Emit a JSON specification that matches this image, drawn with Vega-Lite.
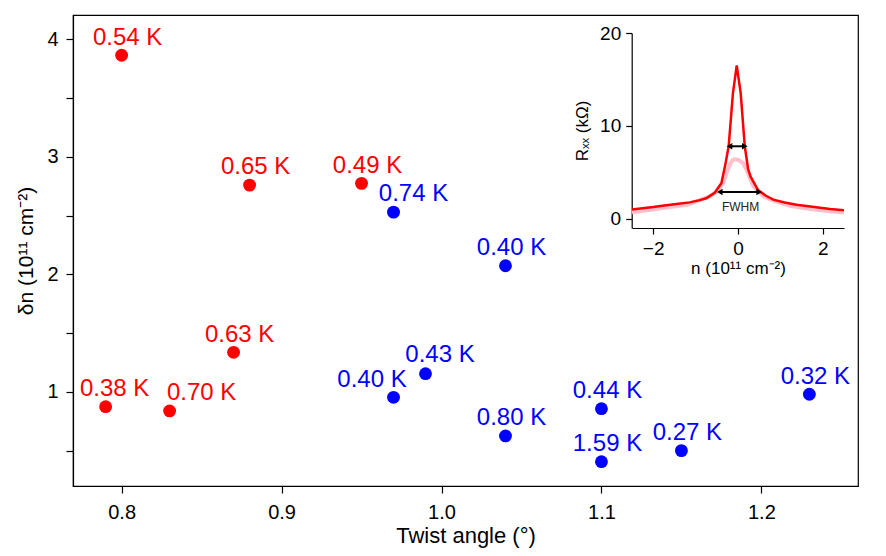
{
  "$schema": "https://vega.github.io/schema/vega-lite/v6.json",
  "width": 785,
  "height": 471,
  "autosize": "none",
  "padding": {"left": 73, "top": 15, "right": 28, "bottom": 70},
  "background": "white",
  "config": {
    "view": {"stroke": "black", "strokeWidth": 1.2},
    "axis": {
      "grid": false,
      "domainColor": "black",
      "domainWidth": 1.2,
      "tickColor": "black",
      "tickWidth": 1.2,
      "labelColor": "black",
      "titleColor": "black",
      "labelFont": "Liberation Sans",
      "titleFont": "Liberation Sans",
      "titleFontWeight": "normal"
    },
    "text": {"font": "Liberation Sans"}
  },
  "datasets": {
    "points": [
      {"twist": 0.80, "dn": 3.864, "label": "0.54 K", "group": "A"},
      {"twist": 0.88, "dn": 2.759, "label": "0.65 K", "group": "A"},
      {"twist": 0.95, "dn": 2.774, "label": "0.49 K", "group": "A"},
      {"twist": 0.87, "dn": 1.336, "label": "0.63 K", "group": "A"},
      {"twist": 0.79, "dn": 0.873, "label": "0.38 K", "group": "A"},
      {"twist": 0.83, "dn": 0.837, "label": "0.70 K", "group": "A"},
      {"twist": 0.97, "dn": 2.529, "label": "0.74 K", "group": "B"},
      {"twist": 1.04, "dn": 2.073, "label": "0.40 K", "group": "B"},
      {"twist": 0.99, "dn": 1.154, "label": "0.43 K", "group": "B"},
      {"twist": 0.97, "dn": 0.953, "label": "0.40 K", "group": "B"},
      {"twist": 1.04, "dn": 0.624, "label": "0.80 K", "group": "B"},
      {"twist": 1.10, "dn": 0.856, "label": "0.44 K", "group": "B"},
      {"twist": 1.10, "dn": 0.405, "label": "1.59 K", "group": "B"},
      {"twist": 1.15, "dn": 0.499, "label": "0.27 K", "group": "B"},
      {"twist": 1.23, "dn": 0.979, "label": "0.32 K", "group": "B"}
    ],
    "rxx": [
      {"trace": "sharp", "n": -2.5, "r": 1.0},
      {"trace": "sharp", "n": -2.0, "r": 1.25},
      {"trace": "sharp", "n": -1.78, "r": 1.4},
      {"trace": "sharp", "n": -1.5, "r": 1.55},
      {"trace": "sharp", "n": -1.14, "r": 1.76},
      {"trace": "sharp", "n": -0.9, "r": 2.0},
      {"trace": "sharp", "n": -0.75, "r": 2.2},
      {"trace": "sharp", "n": -0.55, "r": 2.8},
      {"trace": "sharp", "n": -0.39, "r": 3.85},
      {"trace": "sharp", "n": -0.3, "r": 5.8},
      {"trace": "sharp", "n": -0.22, "r": 7.8},
      {"trace": "sharp", "n": -0.12, "r": 13.5},
      {"trace": "sharp", "n": -0.03, "r": 16.5},
      {"trace": "sharp", "n": 0.064, "r": 13.5},
      {"trace": "sharp", "n": 0.16, "r": 7.8},
      {"trace": "sharp", "n": 0.24, "r": 5.3},
      {"trace": "sharp", "n": 0.3, "r": 4.5},
      {"trace": "sharp", "n": 0.47, "r": 3.1},
      {"trace": "sharp", "n": 0.65, "r": 2.5},
      {"trace": "sharp", "n": 0.83, "r": 2.05},
      {"trace": "sharp", "n": 1.1, "r": 1.75},
      {"trace": "sharp", "n": 1.38, "r": 1.5},
      {"trace": "sharp", "n": 1.8, "r": 1.25},
      {"trace": "sharp", "n": 2.17, "r": 1.04},
      {"trace": "sharp", "n": 2.5, "r": 0.9},
      {"trace": "broad", "n": -2.5, "r": 0.7},
      {"trace": "broad", "n": -2.0, "r": 1.0},
      {"trace": "broad", "n": -1.79, "r": 1.15},
      {"trace": "broad", "n": -1.2, "r": 1.5},
      {"trace": "broad", "n": -0.67, "r": 2.4},
      {"trace": "broad", "n": -0.5, "r": 2.9},
      {"trace": "broad", "n": -0.35, "r": 3.85},
      {"trace": "broad", "n": -0.24, "r": 5.3},
      {"trace": "broad", "n": -0.15, "r": 6.2},
      {"trace": "broad", "n": -0.09, "r": 6.4},
      {"trace": "broad", "n": 0.0, "r": 6.35},
      {"trace": "broad", "n": 0.12, "r": 6.0},
      {"trace": "broad", "n": 0.2, "r": 5.3},
      {"trace": "broad", "n": 0.36, "r": 3.5},
      {"trace": "broad", "n": 0.6, "r": 2.4},
      {"trace": "broad", "n": 0.9, "r": 1.85},
      {"trace": "broad", "n": 1.22, "r": 1.4},
      {"trace": "broad", "n": 1.7, "r": 1.05},
      {"trace": "broad", "n": 2.17, "r": 0.8},
      {"trace": "broad", "n": 2.5, "r": 0.68}
    ],
    "arrows": [
      {"n": -0.2, "n_end": 0.16, "r": 7.8},
      {"n": -0.43, "n_end": 0.5, "r": 2.87}
    ],
    "notes": [
      {"n": 0.06, "r": 1.24, "label": "FWHM"}
    ]
  },
  "layer": [
    {
      "data": {"name": "points"},
      "encoding": {
        "x": {
          "field": "twist",
          "type": "quantitative",
          "scale": {"domain": [0.7696, 1.2604], "nice": false, "zero": false},
          "axis": {
            "orient": "bottom",
            "title": "Twist angle (°)",
            "values": [0.8, 0.9, 1.0, 1.1, 1.2],
            "format": ".1f",
            "labelFontSize": 20,
            "titleFontSize": 22,
            "tickSize": 7,
            "labelPadding": 9,
            "titlePadding": 3
          }
        },
        "y": {
          "field": "dn",
          "type": "quantitative",
          "scale": {"domain": [0.198, 4.207], "nice": false, "zero": false},
          "axis": {
            "orient": "left",
            "title": "δn (10¹¹ cm⁻²)",
            "values": [0.5, 1, 1.5, 2, 2.5, 3, 3.5, 4],
            "labelExpr": "datum.value % 1 == 0 ? format(datum.value, 'd') : ''",
            "labelFontSize": 20,
            "titleFontSize": 21,
            "tickSize": 7,
            "labelPadding": 8,
            "titlePadding": 10
          }
        },
        "color": {
          "field": "group",
          "type": "nominal",
          "scale": {"domain": ["A", "B"], "range": ["#ff0000", "#0000ff"]},
          "legend": null
        }
      },
      "layer": [
        {"mark": {"type": "circle", "size": 165, "opacity": 1}},
        {
          "transform": [{"filter": "!(datum.label == '0.74 K' || datum.label == '0.70 K' || datum.label == '0.43 K' || datum.label == '0.38 K' || (datum.label == '0.40 K' && datum.twist < 1))"}],
          "mark": {"type": "text", "align": "center", "baseline": "alphabetic", "dx": 6, "dy": -10.7, "fontSize": 24},
          "encoding": {"text": {"field": "label"}}
        },
        {
          "transform": [{"filter": "datum.label == '0.74 K'"}],
          "mark": {"type": "text", "align": "center", "baseline": "alphabetic", "dx": 20, "dy": -10.7, "fontSize": 24},
          "encoding": {"text": {"field": "label"}}
        },
        {
          "transform": [{"filter": "datum.label == '0.70 K'"}],
          "mark": {"type": "text", "align": "center", "baseline": "alphabetic", "dx": 32, "dy": -10.7, "fontSize": 24},
          "encoding": {"text": {"field": "label"}}
        },
        {
          "transform": [{"filter": "datum.label == '0.43 K'"}],
          "mark": {"type": "text", "align": "center", "baseline": "alphabetic", "dx": 14.5, "dy": -11.5, "fontSize": 24},
          "encoding": {"text": {"field": "label"}}
        },
        {
          "transform": [{"filter": "datum.label == '0.38 K'"}],
          "mark": {"type": "text", "align": "center", "baseline": "alphabetic", "dx": 9, "dy": -10.7, "fontSize": 24},
          "encoding": {"text": {"field": "label"}}
        },
        {
          "transform": [{"filter": "datum.label == '0.40 K' && datum.twist < 1"}],
          "mark": {"type": "text", "align": "center", "baseline": "alphabetic", "dx": -21.5, "dy": -10.7, "fontSize": 24},
          "encoding": {"text": {"field": "label"}}
        }
      ]
    },
    {
      "encoding": {
        "x": {
          "field": "n",
          "type": "quantitative",
          "scale": {"domain": [-2.5, 2.5], "range": [559, 771], "nice": false, "zero": false},
          "axis": {
            "orient": "bottom",
            "offset": -258,
            "title": "n (10¹¹ cm⁻²)",
            "values": [-2, 0, 2],
            "labelFontSize": 19,
            "titleFontSize": 17,
            "tickSize": 6,
            "labelPadding": 5,
            "titlePadding": 2
          }
        },
        "y": {
          "field": "r",
          "type": "quantitative",
          "scale": {"domain": [-1, 20], "range": [213, 18], "nice": false, "zero": false},
          "axis": {
            "orient": "left",
            "offset": -558.7,
            "title": "Rₓₓ (kΩ)",
            "values": [0, 10, 20],
            "labelFontSize": 19,
            "titleFontSize": 17,
            "tickSize": 6,
            "labelPadding": 5,
            "titlePadding": 8
          }
        }
      },
      "layer": [
        {
          "data": {"values": [{}]},
          "mark": {"type": "rect", "fill": "white", "stroke": "black", "strokeWidth": 1.2},
          "encoding": {
            "x": {"datum": -2.5, "type": "quantitative"},
            "x2": {"datum": 2.5},
            "y": {"datum": -1, "type": "quantitative"},
            "y2": {"datum": 20}
          }
        },
        {
          "data": {"name": "rxx"},
          "transform": [{"filter": "datum.trace == 'broad'"}],
          "mark": {"type": "line", "color": "#ffc0cb", "strokeWidth": 4}
        },
        {
          "data": {"name": "rxx"},
          "transform": [{"filter": "datum.trace == 'sharp'"}],
          "mark": {"type": "line", "color": "#ff0000", "strokeWidth": 2.5}
        },
        {
          "data": {"name": "arrows"},
          "mark": {"type": "rule", "color": "black", "strokeWidth": 2},
          "encoding": {"x2": {"field": "n_end"}}
        },
        {
          "data": {"name": "arrows"},
          "mark": {"type": "point", "shape": "triangle-left", "filled": true, "color": "black", "size": 42, "opacity": 1}
        },
        {
          "data": {"name": "arrows"},
          "mark": {"type": "point", "shape": "triangle-right", "filled": true, "color": "black", "size": 42, "opacity": 1},
          "encoding": {"x": {"field": "n_end", "type": "quantitative"}}
        },
        {
          "data": {"name": "notes"},
          "mark": {"type": "text", "align": "center", "baseline": "middle", "fontSize": 12, "color": "#222222"},
          "encoding": {"text": {"field": "label"}}
        }
      ]
    }
  ],
  "resolve": {
    "scale": {"x": "independent", "y": "independent"},
    "axis": {"x": "independent", "y": "independent"}
  }
}
